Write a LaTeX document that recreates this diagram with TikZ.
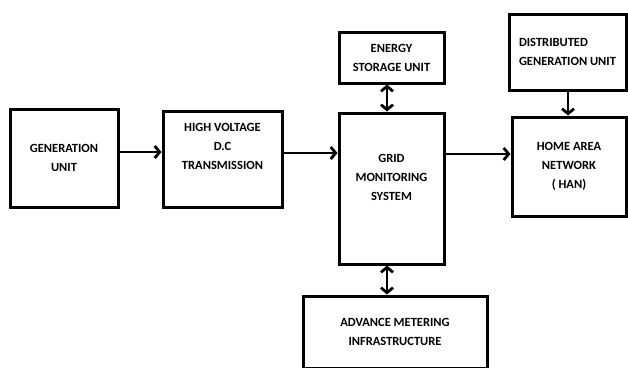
\documentclass[tikz,border=0pt]{standalone}
\usepackage{fontspec}
\setmainfont{Carlito}
\usetikzlibrary{arrows.meta}

\tikzset{
  blk/.style={draw,line width=3pt,align=center,inner sep=0pt,
    font=\fontsize{12.5}{19}\selectfont\bfseries},
  arr/.style={line width=2.8pt,-{Straight Barb[length=5pt,width=12pt,line width=2.8pt]}},
  biarr/.style={line width=2.8pt,{Straight Barb[length=5pt,width=12pt,line width=2.8pt]}-{Straight Barb[length=5pt,width=12pt,line width=2.8pt]}}
}

\begin{document}
\begin{tikzpicture}[x=1pt,y=-1pt]
      \useasboundingbox (0,0) rectangle (628,367);

      %%%%%%%%%%%%%%%%%%%%%%%%%%%%%%%%%%%%%%%%%%%%%%%%%%%%%%%%%%%%%%%%%%%%%%%%%%%
      %%%%  Blocks
      \node[blk,minimum width=108,minimum height=98] (gen) at (64,158)
        {GENERATION\\UNIT};
      \node[blk,minimum width=119,minimum height=96] (hvdc) at (222.5,159)
        {HIGH VOLTAGE\\D.C\\TRANSMISSION\\[6pt]};
      \node[blk,minimum width=105,minimum height=151] (grid) at (391.5,188.5)
        {GRID\\MONITORING\\SYSTEM\\[4pt]};
      \node[blk,minimum width=105,minimum height=51] (store) at (391.5,57.5)
        {ENERGY\\STORAGE UNIT};
      \node[blk,minimum width=117,minimum height=76,align=left] (dgen) at (567.5,52)
        {DISTRIBUTED\\GENERATION UNIT};
      \node[blk,minimum width=114,minimum height=99] (han) at (569,166.5)
        {HOME AREA\\NETWORK\\( HAN)};
      \node[blk,minimum width=184,minimum height=72] (ami) at (395,332)
        {ADVANCE METERING\\INFRASTRUCTURE};

      %%%%%%%%%%%%%%%%%%%%%%%%%%%%%%%%%%%%%%%%%%%%%%%%%%%%%%%%%%%%%%%%%%%%%%%%%%%
      %%%%  Links
      \draw[arr] (gen.east |- 0,152) -- (hvdc.west |- 0,152);
      \draw[arr] (hvdc.east |- 0,153) -- (grid.west |- 0,153);
      \draw[arr] (grid.east |- 0,154) -- (han.west |- 0,154);
      \draw[arr] (dgen.south -| 568,0) -- (han.north -| 568,0);
      \draw[biarr] (store.south -| 387,0) -- (grid.north -| 387,0);
      \draw[biarr] (grid.south -| 387,0) -- (ami.north -| 387,0);
    \end{tikzpicture}
\end{document}
